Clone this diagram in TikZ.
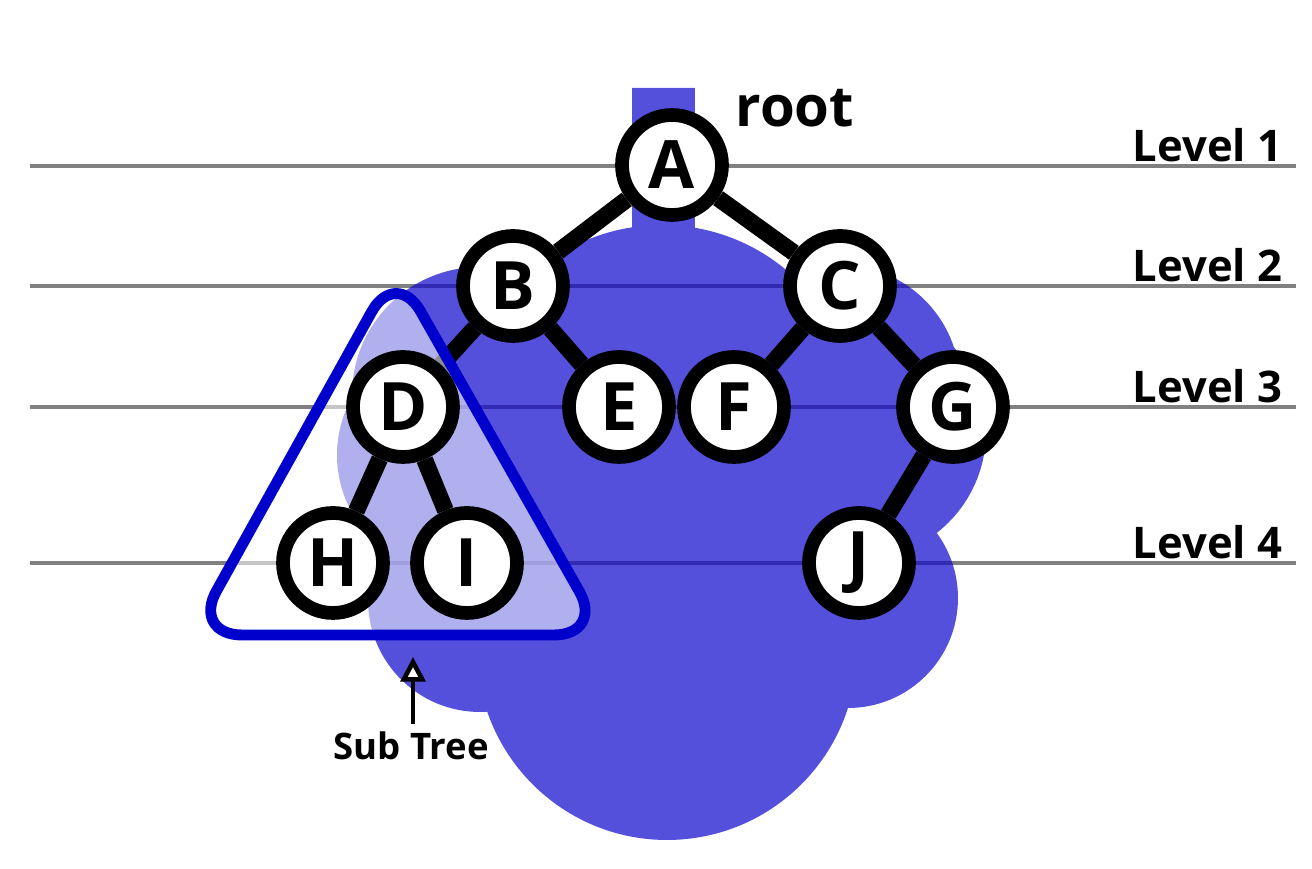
\documentclass[tikz,border=0pt]{standalone}
\usepackage{fontspec}
\setmainfont{Open Sans}
\usetikzlibrary{arrows.meta}
\definecolor{canopy}{RGB}{84,80,220}
\definecolor{canopyline}{RGB}{50,42,178}
\definecolor{subblue}{RGB}{0,0,204}
\definecolor{levelgray}{RGB}{128,128,128}
\pgfdeclarelayer{bg}
\pgfdeclarelayer{mid}
\pgfsetlayers{bg,mid,main}
\tikzset{
  treenode/.style={circle,draw=black,fill=white,line width=3.9pt,minimum size=1.0cm,
    inner sep=0pt,font=\fontsize{19}{19}\selectfont\bfseries},
  branch/.style={black,line width=4.8pt},
  levelline/.style={levelgray,line width=1.3pt},
  levellabel/.style={anchor=base east,inner sep=0pt,font=\fontsize{12.4}{13}\selectfont\bfseries},
  >=Stealth,
}
% trunk and lobes of the canopy
\newcommand{\canopypath}{(6.32,7.81) rectangle (6.95,5.7)
  (6.62,4.50) circle (1.94) (4.80,4.74) circle (1.28)
  (4.55,4.14) circle (1.18) (4.80,2.69) circle (1.12)
  (6.67,2.19) circle (1.90) (8.48,2.71) circle (1.10)
  (8.58,4.37) circle (1.28) (8.40,4.84) circle (1.20)}

\begin{document}
\begin{tikzpicture}
  \useasboundingbox (0,0) rectangle (13.12,8.69);
  \node[treenode] (A) at (6.72,7.04) {A};
  \node[treenode] (B) at (5.13,5.83) {B};
  \node[treenode] (C) at (8.40,5.83) {C};
  \node[treenode] (D) at (4.03,4.62) {D};
  \node[treenode] (E) at (6.19,4.62) {E};
  \node[treenode] (F) at (7.34,4.62) {F};
  \node[treenode] (G) at (9.53,4.62) {G};
  \node[treenode] (H) at (3.33,3.06) {H};
  \node[treenode] (I) at (4.67,3.06) {I};
  \node[treenode] (J) at (8.59,3.06) {J};
  \node[anchor=base west,inner sep=0pt,font=\fontsize{16}{16}\selectfont\bfseries]
    (rootlabel) at (7.35,7.42) {root};

  \begin{pgfonlayer}{bg}
    \foreach \y/\n in {7.03/1,5.83/2,4.62/3,3.06/4}{
      \draw[levelline] (0.30,\y) -- (12.96,\y);
      \node[levellabel] (lvl\n) at (12.83,\y+0.04) {Level \n};
    }
    \fill[canopy] \canopypath;
    \begin{scope}
      \clip \canopypath;
      \foreach \y in {7.03,5.83,4.62,3.06}
        \draw[canopyline,line width=1.3pt] (0.30,\y) -- (12.96,\y);
    \end{scope}
    \draw[branch] (A) -- (B);
    \draw[branch] (A) -- (C);
    \draw[branch] (B) -- (D);
    \draw[branch] (B) -- (E);
    \draw[branch] (C) -- (F);
    \draw[branch] (C) -- (G);
    \draw[branch] (G) -- (J);
  \end{pgfonlayer}

  % the sub tree below D
  \begin{pgfonlayer}{mid}
    \draw[subblue,line width=3.1pt,fill=white,fill opacity=0.55,rounded corners=0.5cm]
      (3.96,6.01) -- (6.04,2.34) -- (1.92,2.34) -- cycle;
    \draw[branch] (D) -- (H);
    \draw[branch] (D) -- (I);
  \end{pgfonlayer}

  \node[anchor=base,inner sep=0pt,font=\fontsize{10.4}{12}\selectfont\bfseries]
    (subtree) at (4.11,1.09) {Sub Tree};
  \coordinate (tip) at (4.13,2.12);
  \draw[line width=1.3pt,shorten <=0.08cm,-{Triangle[fill=white,length=7pt,width=7pt]}]
    (subtree.north -| tip) -- (tip);
\end{tikzpicture}
\end{document}
